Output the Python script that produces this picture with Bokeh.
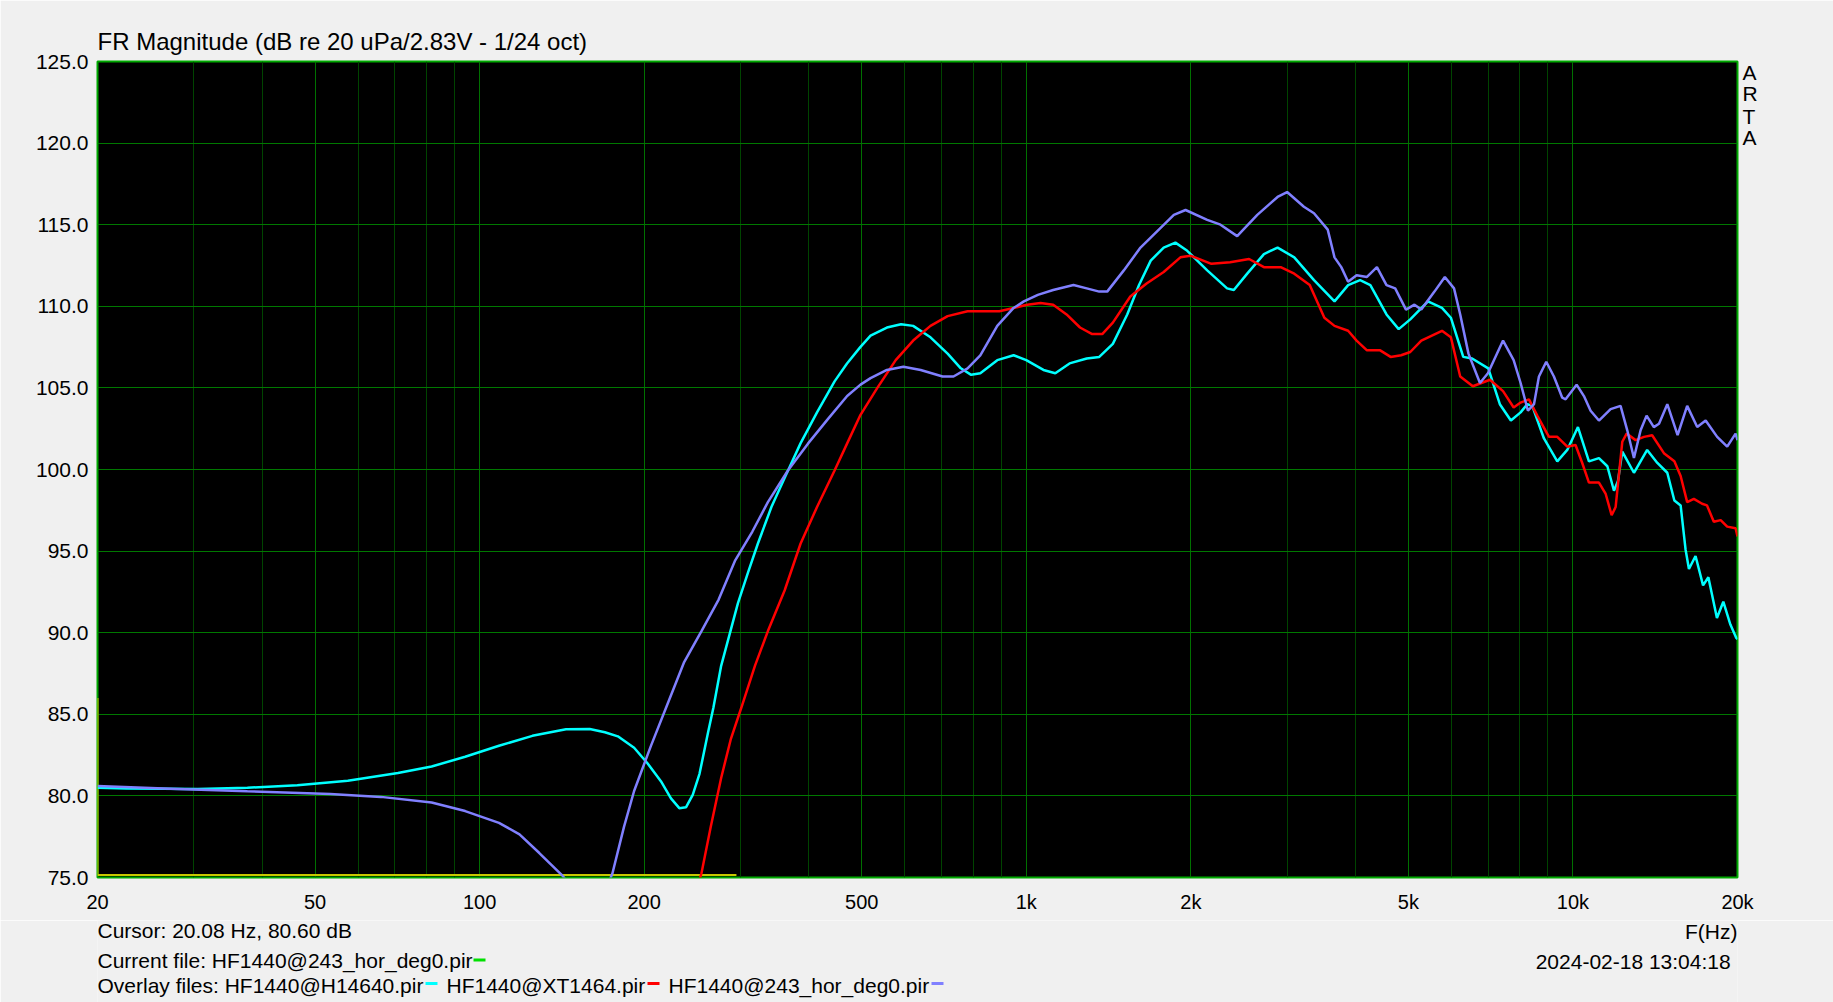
from bokeh.plotting import figure
from bokeh.models import Range1d, FixedTicker, PrintfTickFormatter, LinearAxis
from bokeh.layouts import column
from bokeh.core.properties import value
from bokeh.embed import file_html
from bokeh.resources import INLINE

FONT = "Liberation Sans"

# ---------------- data ----------------
cyan_f = [20, 22.6, 30.5, 37.6, 46.4, 57.4, 70.9, 81.7, 94.1, 108.5, 124.9, 143.9, 159, 169.5, 179,
          191.7, 202.8, 214.6, 223.9, 231.9, 238.5, 245.4, 252.5, 261.8, 267.7, 276.6, 286.6, 296.8,
          309.8, 322.8, 341.8, 361.5, 386.4, 414.2, 446, 470, 497, 519, 556, 590, 621, 668, 718, 759,
          793, 824, 885, 948, 1000, 1075, 1130, 1200, 1290, 1360, 1440, 1530, 1608, 1689, 1784, 1874,
          1970, 2143, 2330, 2397, 2536, 2721, 2882, 3092, 3360, 3663, 3879, 4080, 4260, 4560, 4800,
          5040, 5430, 5760, 5980, 6300, 6540, 7000, 7350, 7700, 8022, 8250, 8425, 8851, 9362, 9764,
          10213, 10697, 11157, 11560, 11887, 12090, 12310, 12930, 13670, 14270, 14880, 15330, 15740,
          16070, 16300, 16760, 17300, 17690, 18340, 18840, 19410, 19880, 20000]
cyan_db = [80.5, 80.45, 80.43, 80.5, 80.65, 80.93, 81.4, 81.8, 82.4, 83.07, 83.68, 84.09, 84.1, 83.9, 83.65,
           82.95, 82.0, 80.9, 79.85, 79.25, 79.3, 80.06, 81.35, 83.9, 85.4, 87.97, 89.9, 91.8,
           93.7, 95.45, 97.7, 99.5, 101.6, 103.5, 105.4, 106.5, 107.5, 108.2, 108.7, 108.9, 108.8, 108.1, 107.1, 106.2,
           105.8, 105.9, 106.7, 107.0, 106.7, 106.1, 105.9, 106.5, 106.8, 106.9, 107.7, 109.5, 111.3, 112.8, 113.6, 113.9,
           113.4, 112.2, 111.1, 111.0, 112.0, 113.2, 113.6, 113.0, 111.6, 110.3, 111.3, 111.6, 111.3, 109.5, 108.6,
           109.2, 110.3, 109.9, 109.3, 106.9, 106.8, 106.2, 104.0, 103.0, 103.5, 104.0, 103.9, 101.9, 100.5, 101.2,
           102.6, 100.5, 100.7, 100.2, 98.7, 99.3, 101.1, 99.8, 101.2, 100.4, 99.8, 98.1, 97.8,
           95.1, 93.9, 94.7, 92.9, 93.4, 90.9, 91.9, 90.5, 89.7, 89.6]

red_f = [238, 254.6, 264.7, 276.6, 288.2, 301.1, 318.9, 336.8, 361.5, 386.4, 414.2, 446, 470.3, 497.5,
         534, 577, 621, 668, 718, 781, 824, 893, 948, 1004, 1062, 1120, 1185, 1254, 1320, 1377, 1440,
         1550, 1660, 1784, 1914, 1997, 2181, 2360, 2556, 2721, 2920, 3092, 3300, 3510, 3663, 3879, 4020,
         4200, 4440, 4640, 4850, 5040, 5280, 5760, 5980, 6220, 6560, 7050, 7450, 7790, 8022, 8310, 8604,
         9040, 9362, 9764, 10110, 10400, 10697, 11157, 11480, 11770, 11970, 12310, 12540, 13020, 13490,
         13960, 14670, 15330, 15740, 16180, 16640, 17230, 17590, 18100, 18630, 19150, 19840, 20000]
red_db = [72.0, 75.26, 78.1, 81.1, 83.5, 85.4, 87.97, 90.1, 92.6, 95.45, 97.7, 99.94, 101.6, 103.35,
          105.0, 106.7, 107.9, 108.8, 109.4, 109.7, 109.7, 109.7, 109.9, 110.1, 110.2, 110.1, 109.5, 108.7, 108.3, 108.3, 109.0,
          110.6, 111.4, 112.1, 113.0, 113.1, 112.6, 112.7, 112.9, 112.4, 112.4, 112.0, 111.3, 109.3, 108.8, 108.5, 107.9,
          107.3, 107.3, 106.9, 107.0, 107.2, 107.9, 108.5, 108.1, 105.7, 105.1, 105.5, 104.8, 103.8, 104.1, 104.3, 103.3,
          102.0, 102.0, 101.4, 101.5, 100.4, 99.2, 99.2, 98.5, 97.2, 97.7, 101.7, 102.2, 101.8, 102.0,
          102.1, 101.0, 100.5, 99.6, 98.0, 98.2, 97.9, 97.8, 96.8, 96.9, 96.5, 96.4, 95.9]

lav_f = [20, 28, 37.6, 53.3, 66, 81.7, 94.1, 108.5, 118.3, 128.6, 141.9, 150, 160, 168, 175, 183.7, 191.7,
         205.7, 221.7, 236.7, 254.6, 273.7, 293.1, 315.5, 336.8, 366.4, 399, 433.9, 470.3, 497.5, 519, 556,
         596, 641, 703, 736, 781, 824, 885, 948, 990, 1050, 1120, 1220, 1290, 1360, 1406, 1508, 1618, 1862,
         1956, 2143, 2266, 2431, 2646, 2882, 3000, 3220, 3360, 3560, 3663, 3769, 3879, 4020, 4200, 4380,
         4560, 4730, 4950, 5130, 5280, 5580, 5830, 6060, 6220, 6440, 6760, 6990, 7450, 7790, 8022, 8274,
         8487, 8666, 8938, 9230, 9560, 9696, 10156, 10474, 10772, 11157, 11720, 12221, 12571, 12930, 13298,
         13637, 14060, 14370, 14880, 15540, 16180, 16880, 17490, 18360, 19150, 19840, 20000]
lav_db = [80.6, 80.43, 80.28, 80.12, 79.94, 79.6, 79.07, 78.35, 77.64, 76.5, 75.1, 74.0, 72.8, 73.8, 75.26, 78.1, 80.3,
          83.05, 85.8, 88.2, 90.1, 92.03, 94.4, 96.2, 98.0, 99.94, 101.6, 103.1, 104.5, 105.2, 105.6, 106.1,
          106.3, 106.1, 105.7, 105.7, 106.2, 107.0, 108.8, 109.9, 110.3, 110.7, 111.0, 111.3, 111.1, 110.9, 110.9, 112.2, 113.6, 115.6,
          115.9, 115.3, 115.0, 114.3, 115.6, 116.7, 117.0, 116.1, 115.7, 114.7, 113.0, 112.4, 111.5, 111.9, 111.8, 112.4,
          111.3, 111.1, 109.8, 110.1, 109.8, 110.9, 111.8, 111.1, 109.5, 107.1, 105.3, 105.9, 107.9, 106.7, 105.3, 103.6,
          104.0, 105.7, 106.6, 105.7, 104.4, 104.3, 105.2, 104.5, 103.6, 103.0, 103.7, 103.9, 102.4, 100.7, 102.4,
          103.3, 102.6, 102.8, 104.0, 102.1, 103.9, 102.6, 103.0, 102.0, 101.4, 102.2, 101.8]

cur_f = [20, 20, 295]
cur_db = [86, 75.15, 75.15]

x_major = [20, 50, 100, 200, 500, 1000, 2000, 5000, 10000, 20000]
x_labels = ["20", "50", "100", "200", "500", "1k", "2k", "5k", "10k", "20k"]
x_minor = [30, 40, 60, 70, 80, 90, 300, 400, 600, 700, 800, 900,
           3000, 4000, 6000, 7000, 8000, 9000]
y_ticks = [75, 80, 85, 90, 95, 100, 105, 110, 115, 120, 125]

title_text = "FR Magnitude (dB re 20 uPa/2.83V - 1/24 oct)"
brand_letters = ["A", "R", "T", "A"]
brand_pos = [72, 93, 116, 137]          # page-y of letter centres (own pixel range)

# bottom info block (page pixel layout)
info_text = ["Cursor: 20.08 Hz, 80.60 dB", "F(Hz)",
             "Current file: HF1440@243_hor_deg0.pir", "2024-02-18  13:04:18",
             "Overlay files: HF1440@H14640.pir", "HF1440@XT1464.pir", "HF1440@243_hor_deg0.pir"]
info_x = [97, 1737, 97, 1736, 97, 446, 668]
info_y = [930, 931, 960, 961, 985, 985, 985]
info_align = ["left", "right", "left", "right", "left", "left", "left"]
marker_colors = ["#00e000", "#00ffff", "#ff0000", "#8080ff"]
marker_left = [473, 425, 647, 931]
marker_y = [959.5, 983, 983, 983]

W = 1833
MAIN_H = 920
INFO_H = 1002 - MAIN_H
FRAME_L, FRAME_R = 97, 1737

# ---------------- main figure ----------------
p = figure(width=W, height=MAIN_H, x_axis_type="log",
           x_range=Range1d(20, 20000), y_range=Range1d(75, 125),
           output_backend="svg", toolbar_location=None,
           min_border_left=FRAME_L, min_border_right=W - FRAME_R, min_border_top=61,
           min_border_bottom=MAIN_H - 877,
           background_fill_color="black", border_fill_color="#f0f0f0",
           outline_line_color="#00a800", outline_line_width=2,
           title=title_text)
p.title.align = "left"
p.title.text_font = FONT
p.title.text_font_size = "24px"
p.title.text_font_style = "normal"
p.title.text_color = "black"
p.title.standoff = 13
p.title.offset = 0

xa = p.xaxis[0]
xa.ticker = FixedTicker(ticks=x_major, minor_ticks=x_minor)
xa.major_label_overrides = {t: l for t, l in zip(x_major, x_labels)}
ya = p.yaxis[0]
ya.ticker = FixedTicker(ticks=y_ticks)
ya.formatter = PrintfTickFormatter(format="%.1f")

p.extra_y_ranges = {"brand": Range1d(877, 61)}
ra = LinearAxis(y_range_name="brand", ticker=FixedTicker(ticks=brand_pos),
                major_label_overrides={t: l for t, l in zip(brand_pos, brand_letters)})
p.add_layout(ra, "right")

for ax, size, so in ((xa, "20px", 13), (ya, "21px", 9), (ra, "21px", 5)):
    ax.axis_line_color = None
    ax.major_tick_line_color = None
    ax.minor_tick_line_color = None
    ax.major_tick_in = 0
    ax.major_tick_out = 0
    ax.minor_tick_in = 0
    ax.minor_tick_out = 0
    ax.major_label_standoff = so
    ax.major_label_text_font = FONT
    ax.major_label_text_font_size = size
    ax.major_label_text_color = "black"

p.xgrid.ticker = FixedTicker(ticks=x_major, minor_ticks=x_minor)
p.xgrid.grid_line_color = "#007000"
p.xgrid.minor_grid_line_color = "#004400"
p.ygrid.ticker = FixedTicker(ticks=y_ticks)
p.ygrid.grid_line_color = "#007800"

p.line(cur_f, cur_db, line_color="#c8c800", line_width=2)
p.line(cyan_f, cyan_db, line_color="#00ffff", line_width=2.5)
p.line(red_f, red_db, line_color="#ff0000", line_width=2.5)
p.line(lav_f, lav_db, line_color="#8080ff", line_width=2.5)

# ---------------- info block below (frame aligned with main frame) ----------------
q = figure(width=W, height=INFO_H, x_range=Range1d(FRAME_L, FRAME_R), y_range=Range1d(1002, MAIN_H),
           output_backend="svg", toolbar_location=None,
           x_axis_location=None, y_axis_location=None,
           min_border_left=FRAME_L, min_border_right=W - FRAME_R, min_border_top=0, min_border_bottom=0,
           background_fill_color="#f0f0f0", background_fill_alpha=1.0,
           border_fill_color="#f0f0f0", outline_line_color=None)
q.title.visible = False
q.grid.visible = False
q.text(x=info_x, y=info_y, text=info_text, text_align=info_align,
       text_baseline="alphabetic", text_font=value(FONT), text_font_size=value("21px"),
       text_color="black")
q.quad(left=marker_left, right=[m + 12 for m in marker_left],
       top=[y - 1.5 for y in marker_y], bottom=[y + 1.5 for y in marker_y],
       fill_color=marker_colors, line_color=None)

layout = column(p, q, spacing=0)

html = file_html(layout, INLINE)
html = html.replace("<body>", '<body style="background-color:#f0f0f0;margin:0;overflow:hidden;">', 1)
open("out.html", "w").write(html)
